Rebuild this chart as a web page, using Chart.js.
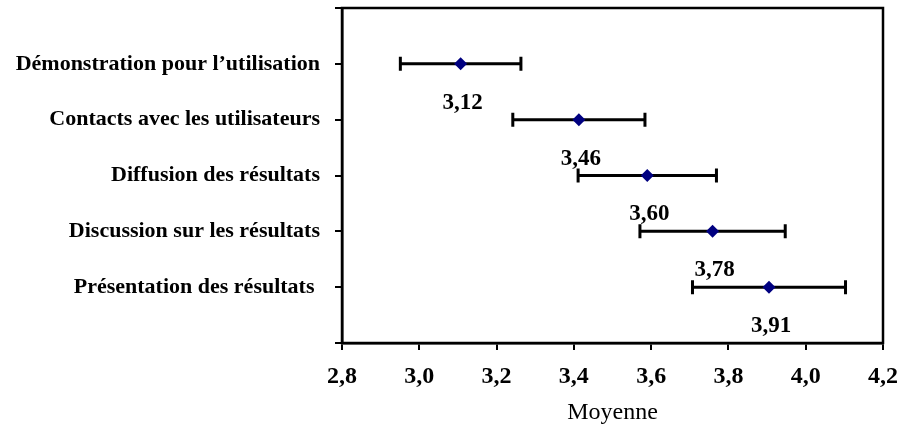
<!DOCTYPE html>
<html>
<head>
<meta charset="utf-8">
<script src="https://cdn.jsdelivr.net/npm/chart.js@4.4.0/dist/chart.umd.min.js"></script>
<style>
  html, body { margin: 0; padding: 0; background: #fff; }
  #wrap { width: 906px; height: 428px; }
</style>
</head>
<body>
<div id="wrap"><canvas id="c" width="906" height="428"></canvas></div>
<script>
const categories = [
  'Démonstration pour l\u2019utilisation',
  'Contacts avec les utilisateurs',
  'Diffusion des résultats',
  'Discussion sur les résultats',
  'Présentation des résultats '
];
const means = [3.107, 3.413, 3.590, 3.759, 3.905];
const errors = [0.156, 0.171, 0.179, 0.188, 0.198];
const meanLabels = ['3,12', '3,46', '3,60', '3,78', '3,91'];
const xMin = 2.8, xMax = 4.2, xStep = 0.2;
const axisTitle = 'Moyenne';

const FONT = "'Liberation Serif', 'Times New Roman', serif";
Chart.defaults.color = '#000';
Chart.defaults.font.family = FONT;

const points = means.map((m, i) => ({ x: m, y: i + 1 }));

const errorBarPlugin = {
  id: 'errorBars',
  beforeDatasetsDraw(chart) {
    const { ctx, scales: { x, y } } = chart;
    ctx.save();
    ctx.strokeStyle = '#000';
    ctx.lineWidth = 3;
    means.forEach((m, i) => {
      const yy = y.getPixelForValue(i + 1);
      const x0 = x.getPixelForValue(m - errors[i]);
      const x1 = x.getPixelForValue(m + errors[i]);
      ctx.beginPath();
      ctx.moveTo(x0, yy); ctx.lineTo(x1, yy);
      ctx.moveTo(x0, yy - 7); ctx.lineTo(x0, yy + 7);
      ctx.moveTo(x1, yy - 7); ctx.lineTo(x1, yy + 7);
      ctx.stroke();
    });
    ctx.restore();
  },
  afterDatasetsDraw(chart) {
    const { ctx, scales: { x, y } } = chart;
    ctx.save();
    ctx.fillStyle = '#000';
    ctx.font = "bold 23px " + FONT;
    ctx.textAlign = 'center';
    ctx.textBaseline = 'middle';
    means.forEach((m, i) => {
      const yy = y.getPixelForValue(i + 1);
      const xx = x.getPixelForValue(m);
      ctx.fillText(meanLabels[i], xx + 2, yy + 39);
    });
    ctx.restore();
  },
  afterDraw(chart) {
    const { ctx, chartArea: a } = chart;
    ctx.save();
    ctx.strokeStyle = '#000';
    ctx.lineWidth = 2.5;
    ctx.strokeRect(a.left, a.top, a.right - a.left, a.bottom - a.top);
    ctx.restore();
  }
};

new Chart(document.getElementById('c'), {
  type: 'scatter',
  data: {
    datasets: [{
      data: points,
      pointStyle: 'rectRot',
      pointRadius: 6.5,
      pointHoverRadius: 6.5,
      backgroundColor: '#000080',
      borderColor: '#000080',
      borderWidth: 0
    }]
  },
  options: {
    responsive: false,
    animation: false,
    devicePixelRatio: 1,
    layout: { padding: { top: 8, right: 23, left: 0, bottom: 0 } },
    plugins: { legend: { display: false }, tooltip: { enabled: false } },
    scales: {
      x: {
        type: 'linear',
        min: xMin, max: xMax,
        afterFit(s) { s.height = 85; s.paddingLeft = 0; s.paddingRight = 0; },
        ticks: {
          stepSize: xStep,
          padding: 12,
          font: { size: 24, weight: 'bold', family: FONT },
          callback: v => v.toFixed(1).replace('.', ',')
        },
        grid: { display: true, drawOnChartArea: false, drawTicks: true, tickLength: 7, color: '#000', lineWidth: 2 },
        border: { display: true, color: '#000', width: 2.5 },
        title: { display: true, text: axisTitle, font: { size: 24, family: FONT }, padding: { top: 0, bottom: 1 } }
      },
      y: {
        type: 'linear',
        reverse: true,
        min: 0, max: 6,
        afterFit(s) { s.width = 342; s.paddingTop = 0; s.paddingBottom = 0; },
        afterBuildTicks(s) { s.ticks = [0,1,2,3,4,5,6].map(v => ({ value: v })); },
        ticks: {
          padding: 15,
          autoSkip: false,
          font: { size: 22, weight: 'bold', family: FONT },
          callback: v => (v >= 1 && v <= categories.length) ? categories[v - 1] : ''
        },
        grid: { display: true, drawOnChartArea: false, drawTicks: true, tickLength: 7, color: '#000', lineWidth: 2 },
        border: { display: true, color: '#000', width: 2.5 }
      }
    }
  },
  plugins: [errorBarPlugin]
});
</script>
</body>
</html>
